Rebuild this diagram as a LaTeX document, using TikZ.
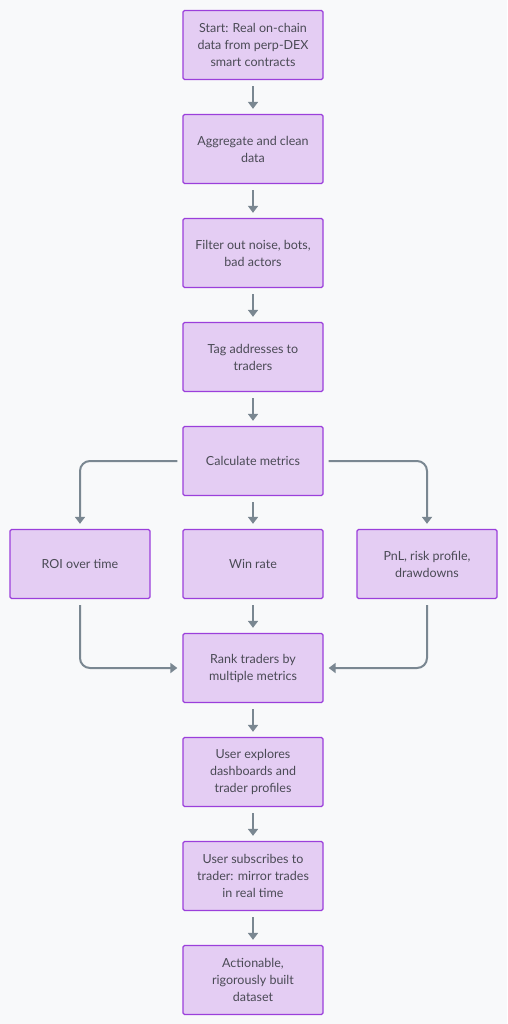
\documentclass[tikz,border=0pt]{standalone}
\usepackage{fontspec}
\setmainfont{Lato}
\usetikzlibrary{arrows.meta}
\definecolor{bg}{HTML}{F8F9FA}
\definecolor{boxfill}{HTML}{E4CDF3}
\definecolor{boxdraw}{HTML}{9B3FDB}
\definecolor{arr}{HTML}{7A8791}
\definecolor{txt}{HTML}{4A4A55}
\begin{document}
\begin{tikzpicture}[x=1pt,y=-1pt,
  box/.style={draw=boxdraw, fill=boxfill, line width=1.3pt, rounded corners=1.5pt,
    minimum width=140pt, minimum height=69pt, align=center,
    font=\fontsize{12.5}{17}\selectfont, text=txt, inner sep=0pt},
  flow/.style={draw=arr, line width=2pt, rounded corners=10pt, -{Triangle[length=7pt,width=10pt]}}]
\fill[bg] (0,0) rectangle (507,1024);
\useasboundingbox (0,0) rectangle (507,1024);
\node[box] (n1) at (253,45) {Start: Real on-chain\\data from perp-DEX\\smart contracts};
\node[box] (n2) at (253,149) {Aggregate and clean\\data};
\node[box] (n3) at (253,253) {Filter out noise, bots,\\bad actors};
\node[box] (n4) at (253,357) {Tag addresses to\\traders};
\node[box] (n5) at (253,461) {Calculate metrics};
\node[box] (roi) at (80,564) {ROI over time};
\node[box] (win) at (253,564) {Win rate};
\node[box] (pnl) at (427,564) {PnL, risk profile,\\drawdowns};
\node[box] (rank) at (253,668) {Rank traders by\\multiple metrics};
\node[box] (ue) at (253,772) {User explores\\dashboards and\\trader profiles};
\node[box] (us) at (253,876) {User subscribes to\\trader: mirror trades\\in real time};
\node[box] (act) at (253,980) {Actionable,\\rigorously built\\dataset};
\foreach \a/\b in {n1/n2,n2/n3,n3/n4,n4/n5,n5/win,win/rank,rank/ue,ue/us,us/act}
  \draw[flow] ([yshift=-6pt]\a.south) -- ([yshift=5pt]\b.north);
\draw[flow] ([xshift=-5pt]n5.west) -| ([yshift=5pt]roi.north);
\draw[flow] ([xshift=5pt]n5.east) -| ([yshift=5pt]pnl.north);
\draw[flow] ([yshift=-6pt]roi.south) |- ([xshift=-5pt]rank.west);
\draw[flow] ([yshift=-6pt]pnl.south) |- ([xshift=5pt]rank.east);
\end{tikzpicture}
\end{document}
